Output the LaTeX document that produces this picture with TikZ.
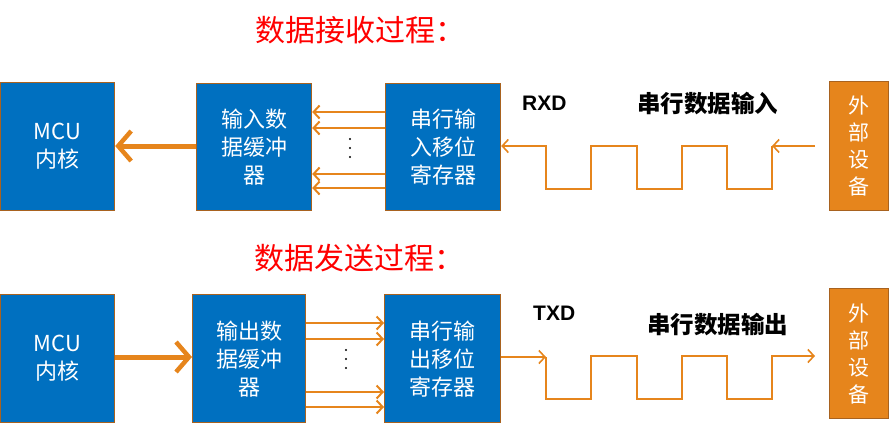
\documentclass[tikz,border=0pt]{standalone}
\usepackage{fontspec}
\newfontfamily\cjk{Noto Sans CJK SC}
\newfontfamily\arialb{Liberation Sans}
\usetikzlibrary{arrows.meta}
\definecolor{boxblue}{HTML}{0070C0}
\definecolor{edge}{HTML}{A8621F}
\definecolor{orng}{HTML}{E6851C}
\tikzset{
  x=1pt, y=-1pt,
  bluebox/.style={draw=edge, line width=1.2pt, fill=boxblue, text=white, align=center,
    anchor=north west, inner sep=0pt, font=\cjk\fontsize{22}{28}\selectfont},
  extbox/.style={draw=edge, line width=1.2pt, fill=orng, text=white, align=center,
    anchor=north west, inner sep=0pt, font=\cjk\fontsize{21}{27}\selectfont},
  title/.style={text=red, font=\cjk\fontsize{30}{32}\selectfont, inner sep=0pt},
  sig/.style={font=\arialb\bfseries\fontsize{21}{23}\selectfont, inner sep=0pt},
  wlabel/.style={font=\cjk\bfseries\fontsize{23.5}{26}\selectfont, inner sep=0pt},
  bigarrow/.style={draw=orng, line width=5pt, -{Straight Barb[length=13pt, width=30pt, line width=4.5pt]}},
  par/.style={draw=orng, line width=2.5pt, -{Straight Barb[length=6pt, width=13pt, line width=2pt]}},
  wave/.style={draw=orng, line width=2pt, line join=miter},
  wavearrow/.style={draw=orng, line width=2pt, -{Straight Barb[length=6pt, width=13pt, line width=1.6pt]}},
}
\begin{document}
\begin{tikzpicture}
\useasboundingbox (0,0) rectangle (889,424);
% titles
\node[title] (t1) at (360,30) {数据接收过程：};
\node[title] (t2) at (359,258) {数据发送过程：};

% ---------- receive ----------
\node[bluebox, minimum width=114pt, minimum height=128pt] (mcu1) at (0,82) {MCU\\内核};
\node[bluebox, minimum width=115pt, minimum height=127pt] (buf1) at (196,83) {输入数\\据缓冲\\器};
\node[bluebox, minimum width=115pt, minimum height=127pt] (sr1) at (385,83) {串行输\\入移位\\寄存器};
\node[extbox, minimum width=59pt, minimum height=129pt] (ext1) at (829,81) {外\\部\\设\\备};

\draw[bigarrow] (buf1.west |- 0,146) -- (mcu1.east |- 0,146);
\foreach \yy in {112,128,174,188}
  \draw[par] (sr1.west |- 0,\yy) -- (buf1.east |- 0,\yy);
\foreach \yy in {139,148,157}
  \fill (350,\yy) circle (1.1pt);

\node[sig, anchor=west] (rxd) at (522,103) {RXD};
\node[wlabel, anchor=west] (in1) at (637,104) {串行数据输入};

\coordinate (r0) at (815,146);
\coordinate (r1) at (772,146);
\draw[wavearrow] (r0) -- (r1);
\draw[wave, -{Straight Barb[length=6pt, width=13pt, line width=1.6pt]}]
  (r1) -- (772,189) -- (727,189) -- (727,146) -- (682,146) -- (682,189)
  -- (637,189) -- (637,146) -- (591,146) -- (591,189) -- (546,189)
  -- (546,146) -- (sr1.east |- 0,146);

% ---------- transmit ----------
\node[bluebox, minimum width=114pt, minimum height=128pt] (mcu2) at (0,294) {MCU\\内核};
\node[bluebox, minimum width=113pt, minimum height=128pt] (buf2) at (192,294) {输出数\\据缓冲\\器};
\node[bluebox, minimum width=116pt, minimum height=128pt] (sr2) at (384,294) {串行输\\出移位\\寄存器};
\node[extbox, minimum width=59pt, minimum height=130pt] (ext2) at (829,288) {外\\部\\设\\备};

\draw[bigarrow] (mcu2.east |- 0,357) -- (buf2.west |- 0,357);
\foreach \yy in {323,339,392,407}
  \draw[par] (buf2.east |- 0,\yy) -- (sr2.west |- 0,\yy);
\foreach \yy in {350,359,368}
  \fill (346,\yy) circle (1.1pt);

\node[sig, anchor=west] (txd) at (533,313) {TXD};
\node[wlabel, anchor=west] (out1) at (647,325) {串行数据输出};

\coordinate (s1) at (546,357);
\coordinate (s2) at (815,356);
\draw[wavearrow] (sr2.east |- 0,357) -- (s1);
\draw[wave, -{Straight Barb[length=6pt, width=13pt, line width=1.6pt]}]
  (s1) -- (546,399) -- (591,399) -- (591,356) -- (637,356) -- (637,399)
  -- (682,399) -- (682,356) -- (727,356) -- (727,399) -- (772,399)
  -- (772,356) -- (s2);
\end{tikzpicture}
\end{document}
